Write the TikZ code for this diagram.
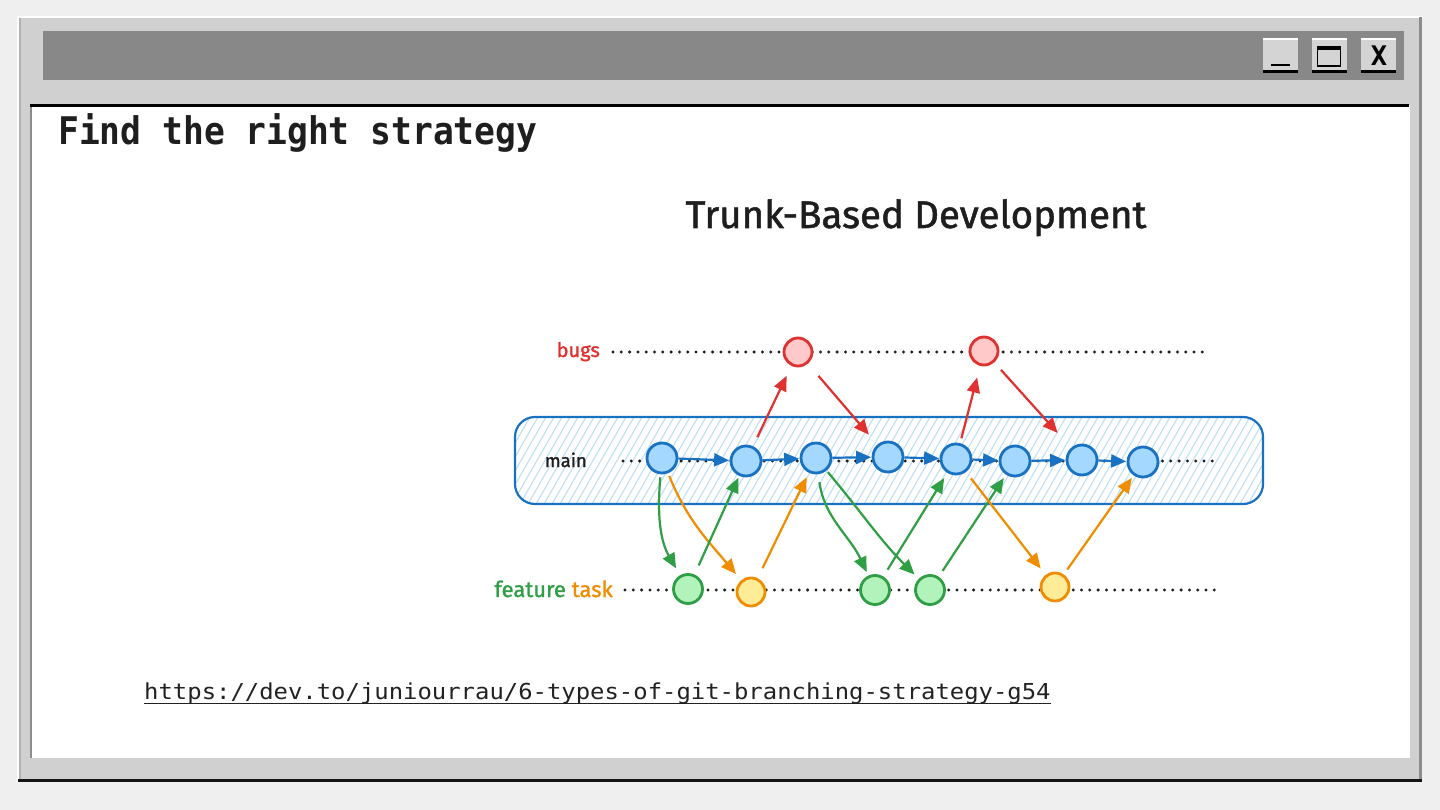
\documentclass[tikz,border=0pt]{standalone}
\usepackage{fontspec}
\usetikzlibrary{arrows.meta}
\newfontfamily\handfont[FakeBold=1.3]{Fira Sans}
\newfontfamily\monofont{DejaVu Sans Mono}
\definecolor{bgc}{HTML}{EFEFEF}
\definecolor{framec}{HTML}{D0D0D0}
\definecolor{tbarc}{HTML}{888888}
\definecolor{btnc}{HTML}{D4D4D4}
\definecolor{ink}{HTML}{1E1E1E}
\definecolor{urlc}{HTML}{222222}
\definecolor{mblue}{HTML}{1971C2}
\definecolor{mfill}{HTML}{A5D8FF}
\definecolor{hatchc}{HTML}{BEDFF5}
\definecolor{bred}{HTML}{E03131}
\definecolor{bfill}{HTML}{FFC9C9}
\definecolor{fgreen}{HTML}{2F9E44}
\definecolor{ffill}{HTML}{B2F2BB}
\definecolor{torange}{HTML}{F08C00}
\definecolor{tfill}{HTML}{FFEC99}
\tikzset{
  commit/.style={circle, inner sep=0pt, line width=2.8pt},
  mainc/.style={commit, minimum size=30pt, draw=mblue, fill=mfill},
  bugc/.style={commit, minimum size=28pt, draw=bred, fill=bfill},
  featc/.style={commit, minimum size=29pt, draw=fgreen, fill=ffill},
  taskc/.style={commit, minimum size=28pt, draw=torange, fill=tfill},
  arr/.style={line width=2.2pt, -{Triangle[length=15pt,width=13pt]}},
  redarr/.style={arr, bred},
  greenarr/.style={arr, fgreen},
  orangearr/.style={arr, torange},
  bluearr/.style={arr, mblue},
  dotline/.style={line width=3.3pt, line cap=round, dash pattern=on 0pt off 8.3pt, ink},
  hatch/.style={hatchc, line width=1.1pt},
}
\begin{document}
\begin{tikzpicture}[x=1pt,y=1pt]
\useasboundingbox (0,0) rectangle (1440,-810);
\fill[bgc] (0,0) rectangle (1440,-810);
% window frame
\fill[framec] (18,-17) rectangle (1422,-782);
\fill[white] (17,-16) rectangle (1422,-18);
\fill[white] (17,-16) rectangle (18.5,-782);
\fill[black!30] (18.5,-18) rectangle (20.5,-780);
\fill[black!45] (1418.5,-17) rectangle (1422,-782);
\fill[black!92] (18,-779) rectangle (1422,-782);
% title bar
\fill[tbarc] (43,-31) rectangle (1404,-80);
% buttons
\foreach \bx in {1263,1312,1361}{
  \fill[btnc] (\bx,-38) rectangle ++(35,-35);
  \fill[white] (\bx,-38) rectangle ++(35,-2);
  \fill[black] (\bx,-70.5) rectangle ++(35,-3);
}
\draw[line width=2pt, black] (1271,-65) -- (1290,-65);
\draw[line width=1.5pt, black] (1317.5,-47.5) rectangle (1340.5,-66);
\fill[black] (1317,-46) rectangle (1341,-50);
\node[font=\monofont\bfseries\fontsize{27}{30}\selectfont, text=black, inner sep=0pt] (closex) at (1379,-56) {X};
% content area
\fill[white] (30,-105) rectangle (1410,-758);
\fill[black!45] (30,-105) rectangle (31.5,-758);
\draw[line width=3pt, black] (30,-105.5) -- (1409,-105.5);
% heading
\node[anchor=base west, inner sep=0pt, text=ink, font=\monofont\bfseries\fontsize{34.6}{40}\selectfont] (heading) at (58,-145) {\scalebox{1}[1.1]{Find the right strategy}};
% URL
\node[anchor=base west, inner sep=0pt, text=urlc, font=\monofont\fontsize{23.9}{28}\selectfont] (url) at (144,-699) {\scalebox{1}[0.92]{https://dev.to/juniourrau/6-types-of-git-branching-strategy-g54}};
\draw[urlc, line width=1.5pt] ([yshift=-4.5pt]url.base west) -- ([yshift=-4.5pt]url.base east);
% diagram title
\node[anchor=base, inner sep=0pt, text=ink, font=\handfont\fontsize{38.5}{44}\selectfont] (dtitle) at (916,-228) {Trunk-Based Development};
% main box with hatch
\begin{scope}
  \clip[rounded corners=20pt] (515,-417) rectangle (1263,-504);
  \foreach \hx in {400,408,...,1300}{ \draw[hatch] (\hx,-504) -- ++(50,87); }
\end{scope}
\draw[mblue, line width=2.2pt, rounded corners=20pt] (515,-417) rectangle (1263,-504);
% dotted lanes
\draw[dotline] (613,-352) -- (1210,-352);
\draw[dotline] (623,-461) -- (1218,-461);
\draw[dotline] (625,-590) -- (1222,-590);
% labels
\node[anchor=base east, inner sep=0pt, text=bred, font=\handfont\fontsize{20}{24}\selectfont] (lbugs) at (600,-357) {bugs};
\node[anchor=base east, inner sep=0pt, text=ink, font=\handfont\fontsize{18.5}{22}\selectfont] (lmain) at (587,-467) {main};
\node[anchor=base east, inner sep=0pt, font=\handfont\fontsize{22}{26}\selectfont] (lfeat) at (613,-597) {\textcolor{fgreen}{feature} \textcolor{torange}{task}};
% commits
\node[mainc] (m1) at (662,-458) {};
\node[mainc] (m2) at (746,-461) {};
\node[mainc] (m3) at (816,-458) {};
\node[mainc] (m4) at (888,-457) {};
\node[mainc] (m5) at (956,-459) {};
\node[mainc] (m6) at (1015,-461) {};
\node[mainc] (m7) at (1082,-460) {};
\node[mainc] (m8) at (1143,-462) {};
\node[bugc] (b1) at (798,-352) {};
\node[bugc] (b2) at (984,-351) {};
\node[featc] (f1) at (688,-589) {};
\node[featc] (f2) at (875,-590) {};
\node[featc] (f3) at (930,-590) {};
\node[taskc] (t1) at (751,-592) {};
\node[taskc] (t2) at (1055,-587) {};
% main arrows
\draw[bluearr, shorten >=0.5pt] (m1) -- (m2);
\draw[bluearr, shorten >=0.5pt] (m2) -- (m3);
\draw[bluearr, shorten >=0.5pt] (m3) -- (m4);
\draw[bluearr, shorten >=0.5pt] (m4) -- (m5);
\draw[bluearr, shorten >=0.5pt] (m5) -- (m6);
\draw[bluearr, shorten >=0.5pt] (m6) -- (m7);
\draw[bluearr, shorten >=0.5pt] (m7) -- (m8);
% bug arrows
\draw[redarr, shorten <=10pt, shorten >=11pt] (m2) -- (b1);
\draw[redarr, shorten <=16pt, shorten >=13pt] (b1) -- (m4);
\draw[redarr, shorten <=5pt, shorten >=12pt] (m5) -- (b2);
\draw[redarr, shorten <=10pt, shorten >=20pt] (b2) -- (m7);
% feature / task arrows
\draw[greenarr, shorten <=3pt, shorten >=8pt] (m1) to[out=-95, in=120] (f1);
\draw[orangearr, shorten <=3pt, shorten >=8pt] (m1) to[out=-68, in=130] (t1);
\draw[greenarr, shorten <=10pt, shorten >=2pt] (f1) -- (m2);
\draw[orangearr, shorten <=11pt, shorten >=5pt] (t1) -- (m3);
\draw[greenarr, shorten <=8pt, shorten >=4pt] (m3) to[out=-82, in=115] (f2);
\draw[greenarr, shorten <=2pt, shorten >=6pt] (m3) to[out=-50, in=135] (f3);
\draw[greenarr, shorten <=8pt, shorten >=6pt] (f2) -- (m5);
\draw[greenarr, shorten <=7pt, shorten >=4pt] (f3) -- (m6);
\draw[orangearr, shorten <=8pt, shorten >=8pt] (m5) -- (t2);
\draw[orangearr, shorten <=6pt, shorten >=3pt] (t2) -- (m8);
\end{tikzpicture}
\end{document}
